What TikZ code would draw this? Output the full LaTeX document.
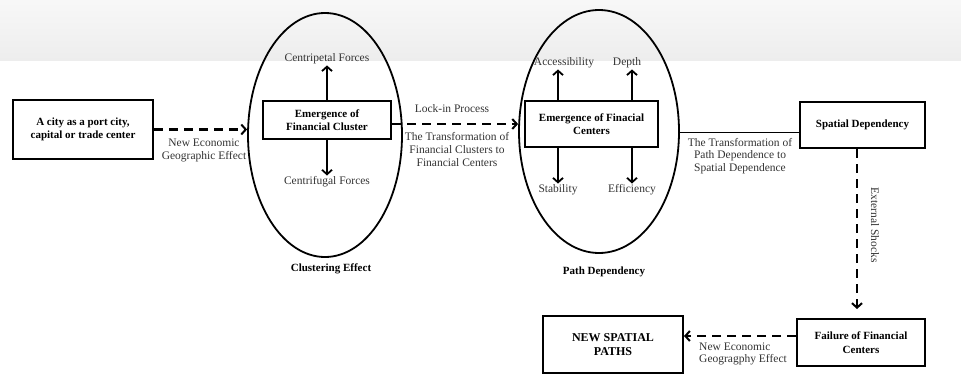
\documentclass[tikz,border=0pt]{standalone}
\usepackage{fontspec}
\setmainfont{Liberation Serif}
\usetikzlibrary{arrows.meta,shapes.geometric,positioning}
\tikzset{
  stagebox/.style={
    draw,
    line width=2pt,
    align=center,
    inner sep=0pt,
    font=\bfseries\fontsize{11}{13.5}\selectfont
  },
  phase/.style={
    draw,
    ellipse,
    line width=1.8pt,
    inner sep=0pt
  },
  dasharrow/.style={
    line width=2.6pt,
    dash pattern=on 9pt off 6pt,
    -{Straight Barb[length=4.5pt,width=10pt,line width=2pt]}
  },
  forcearrow/.style={
    line width=2pt,
    -{Straight Barb[length=4.5pt,width=10pt,line width=1.8pt]}
  },
  caption/.style={
    align=center,
    text=black!80,
    inner sep=1pt,
    font=\fontsize{11.5}{12.8}\selectfont
  },
  every picture/.style={
    x=1pt,
    y=-1pt
  }
}
\begin{document}
\begin{tikzpicture}
    \useasboundingbox (0,0) rectangle (961,388);
    \shade[top color=black!3, bottom color=black!7] (0,0) rectangle (961,60);
    % phases
    \node[phase, minimum width=154pt, minimum height=244pt] (clus) at (325,135) {};
    \node[phase, minimum width=160pt, minimum height=243pt] (path) at (599,131.5) {};
    % boxes
    \node[stagebox, minimum width=140pt, minimum height=59pt] (city) at (83,129.5) {A city as a port city,\\capital or trade center};
    \node[stagebox, minimum width=128pt, minimum height=38pt] (clbox) at (327,120) {Emergence of\\Financial Cluster};
    \node[stagebox, minimum width=133pt, minimum height=46pt] (cent) at (591.5,124) {Emergence of Finacial\\Centers};
    \node[stagebox, minimum width=125pt, minimum height=46pt] (spat) at (862.5,125) {Spatial Dependency};
    \node[stagebox, minimum width=128pt, minimum height=47pt] (fail) at (861,342.5) {Failure of Financial\\Centers};
    \node[stagebox, minimum width=140pt, minimum height=57pt, font=\bfseries\fontsize{12}{13.5}\selectfont] (nsp) at (613,344.5) {NEW SPATIAL\\PATHS};
    % forces
    \node[caption] (cpf) at (327,59) {Centripetal Forces};
    \node[caption] (cff) at (327,182) {Centrifugal Forces};
    \node[caption] (acc) at (564,63) {Accessibility};
    \node[caption] (dep) at (627,63) {Depth};
    \node[caption] (sta) at (558,190) {Stability};
    \node[caption] (eff) at (632,190) {Efficiency};
    \draw[forcearrow] (clbox.north) -- (cpf.south);
    \draw[forcearrow] (clbox.south) -- (cff.north);
    \draw[forcearrow] ([xshift=-33.5pt]cent.north) -- ([xshift=-33.5pt]cent.north |- acc.south);
    \draw[forcearrow] ([xshift=40.5pt]cent.north) -- ([xshift=40.5pt]cent.north |- dep.south);
    \draw[forcearrow] (cent.south -| sta) -- (sta.north);
    \draw[forcearrow] (cent.south -| eff) -- (eff.north);
    % phase names
    \node[caption, font=\bfseries\fontsize{11}{12.5}\selectfont, text=black] (cle) at (331,269) {Clustering Effect};
    \node[caption, font=\bfseries\fontsize{11}{12.5}\selectfont, text=black] (pdn) at (604,272) {Path Dependency};
    % transitions
    \draw[dasharrow] (city.east) -- (city.east -| clus.west);
    \node[caption] (neg) at (204,150.5) {New Economic\\Geographic Effect};
    \draw[dasharrow] ([yshift=-4pt]clbox.east) -- ([yshift=-4pt]clbox.east -| path.west);
    \node[caption] (lock) at (452,109) {Lock-in Process};
    \node[caption] (tfc) at (457,149.5) {The Transformation of\\Financial Clusters to\\Financial Centers};
    \draw[line width=1.8pt] ([yshift=-1pt]path.east) -- ([yshift=-1pt]path.east -| spat.west);
    \node[caption] (tpd) at (740,156) {The Transformation of\\Path Dependence to\\Spatial Dependence};
    \draw[dasharrow, shorten >=9pt] (spat.south -| 857,0) -- (fail.north -| 857,0);
    \node[caption, rotate=-90] (ext) at (875,225) {External Shocks};
    \draw[dasharrow] ([yshift=6.5pt]fail.west) -- ([yshift=6.5pt]fail.west -| nsp.east);
    \node[caption, align=left] (negg) at (743,354) {New Economic\\Geogragphy Effect};
\end{tikzpicture}
\end{document}
